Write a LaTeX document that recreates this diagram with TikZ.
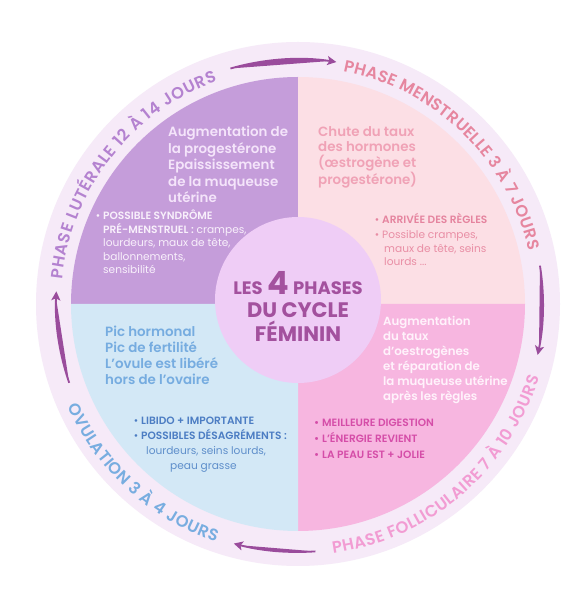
\documentclass[tikz,border=0pt]{standalone}
\usepackage{fontspec}
\setmainfont{Poppins}
\newfontfamily\semib{Poppins SemiBold}
\usetikzlibrary{calc,arrows.meta,decorations.text}

\definecolor{ringbg}{HTML}{F6EAF8}
\definecolor{lutfill}{HTML}{C59DDA}
\definecolor{mensfill}{HTML}{FCDFE5}
\definecolor{ovufill}{HTML}{D3E8F6}
\definecolor{folfill}{HTML}{F7B6E0}
\definecolor{midfill}{HTML}{EFCDF6}
\definecolor{arrowcol}{HTML}{9A4C9C}
\definecolor{titlecol}{HTML}{A3519E}
\definecolor{luttext}{HTML}{F4E4FA}
\definecolor{lutlist}{HTML}{F8F0FB}
\definecolor{lutring}{HTML}{B482D0}
\definecolor{menstext}{HTML}{F0A2B6}
\definecolor{mensbold}{HTML}{E5849F}
\definecolor{menslist}{HTML}{E98EA5}
\definecolor{mensring}{HTML}{E6869F}
\definecolor{ovutext}{HTML}{76ACE0}
\definecolor{ovubold}{HTML}{4C7DC3}
\definecolor{ovulist}{HTML}{5F8FCB}
\definecolor{ovuring}{HTML}{78ADE0}
\definecolor{foltext}{HTML}{FFF2FB}
\definecolor{folbold}{HTML}{D54DA8}
\definecolor{folring}{HTML}{F29CD3}

\newcommand*{\bul}{\llap{\textbullet\hspace{3pt}}}
\newcommand*{\headfont}{\semib\fontsize{13.4}{16.5}\selectfont}
\newcommand*{\listfont}{\fontsize{10.6}{13.5}\selectfont}
\newcommand*{\ringfont}{\semib\fontsize{16.4}{16.4}\selectfont}

\begin{document}
\begin{tikzpicture}[x=1pt,y=1pt,>={Stealth[length=9pt,width=9pt,inset=2pt]},
  head/.style={anchor=north west,align=left,inner sep=0pt,font=\headfont},
  bullets/.style={anchor=north west,align=left,inner sep=0pt,font=\listfont},
  cyclearrow/.style={->,draw=arrowcol,fill=arrowcol,line width=1.8pt},
  ringtext/.style={decorate,decoration={text along path,text align={fit to path},text={#1}}}]
\useasboundingbox (0,0) rectangle (580,592);
\fill[white] (0,0) rectangle (580,592);

\coordinate (C) at (298,288);
\fill[ringbg] (C) circle (262);
\fill[lutfill] (C) -- +(180:227) arc (180:90:227) -- cycle;
\fill[mensfill] (C) -- +(90:227) arc (90:0:227) -- cycle;
\fill[folfill] (C) -- +(0:227) arc (0:-90:227) -- cycle;
\fill[ovufill] (C) -- +(-90:227) arc (-90:-180:227) -- cycle;

\node[circle,fill=midfill,minimum size=166pt,inner sep=0pt] (disk) at (298,292) {};
\node[align=center,inner sep=0pt,text=titlecol,font=\bfseries\fontsize{21}{23.5}\selectfont] (title) at (298,286)
  {{\fontsize{18}{23.5}\selectfont LES} {\fontsize{32}{23.5}\selectfont 4} {\fontsize{18}{23.5}\selectfont PHASES}\\DU CYCLE\\FÉMININ};

\node[head,text=luttext] (lutHead) at (168,466)
  {Augmentation de\\la progestérone\\Epaississement\\de la muqueuse\\utérine};
\node[bullets,text=lutlist] (lutList) at (103,382)
  {\bul{\semib POSSIBLE SYNDRÔME}\\{\semib PRÉ-MENSTRUEL :} crampes,\\lourdeurs, maux de tête,\\ballonnements,\\sensibilité};

\node[head,text=menstext,font=\semib\fontsize{13.4}{15.8}\selectfont] (mensHead) at (318,466)
  {Chute du taux\\des hormones\\(œstrogène et\\progestérone)};
\node[bullets,text=menslist] (mensList) at (382,379)
  {{\color{mensbold}\bul{\semib ARRIVÉE DES RÈGLES}}\\[2pt]\bul Possible crampes,\\\hspace*{2pt}maux de tête, seins\\\hspace*{2pt}lourds ...};

\node[head,text=ovutext,font=\semib\fontsize{13.4}{16}\selectfont] (ovuHead) at (105,266)
  {Pic hormonal\\Pic de fertilité\\L’ovule est libéré\\hors de l’ovaire};
\node[bullets,text=ovulist,font=\fontsize{10.6}{15}\selectfont] (ovuList) at (141,175)
  {{\color{ovubold}\bul{\semib LIBIDO + IMPORTANTE}}\\{\color{ovubold}\bul{\semib POSSIBLES DÉSAGRÉMENTS :}}\\\hspace*{5pt}lourdeurs, seins lourds,\\\hspace*{29pt}peau grasse};

\node[head,text=foltext,font=\semib\fontsize{11.8}{15}\selectfont] (folHead) at (383,276)
  {Augmentation\\du taux\\d’oestrogènes\\et réparation de\\la muqueuse utérine\\après les règles};
\node[bullets,text=folbold,font=\semib\fontsize{10.6}{16}\selectfont] (folList) at (322,173)
  {\bul MEILLEURE DIGESTION\\\bul L’ÉNERGIE REVIENT\\\bul LA PEAU EST + JOLIE};

\coordinate (lutS) at ($(C)+(174:237)$);
\path[ringtext={|\ringfont\color{lutring}|PHASE LUTÉRALE 12 À 14 JOURS}] (lutS) arc (174:110:237);
\coordinate (mensS) at ($(C)+(79:237)$);
\path[ringtext={|\ringfont\color{mensring}|PHASE MENSTRUELLE 3 À 7 JOURS}] (mensS) arc (79:13:237);
\coordinate (folS) at ($(C)+(-82:252)$);
\path[ringtext={|\ringfont\color{folring}|PHASE FOLLICULAIRE 7 À 10 JOURS}] (folS) arc (-82:-17:252);
\coordinate (ovuS) at ($(C)+(204:252)$);
\path[ringtext={|\ringfont\color{ovuring}|OVULATION 3 À 4 JOURS}] (ovuS) arc (204:251:252);

\coordinate (arrN) at ($(C)+(106:245)$);
\draw[cyclearrow] (arrN) arc (106:81:245);
\coordinate (arrE) at ($(C)+(9:245)$);
\draw[cyclearrow] (arrE) arc (9:-12:245);
\coordinate (arrS) at ($(C)+(-86:248)$);
\draw[cyclearrow] (arrS) arc (-86:-105:248);
\coordinate (arrW) at ($(C)+(199:242)$);
\draw[cyclearrow] (arrW) arc (199:177:242);

\end{tikzpicture}
\end{document}
